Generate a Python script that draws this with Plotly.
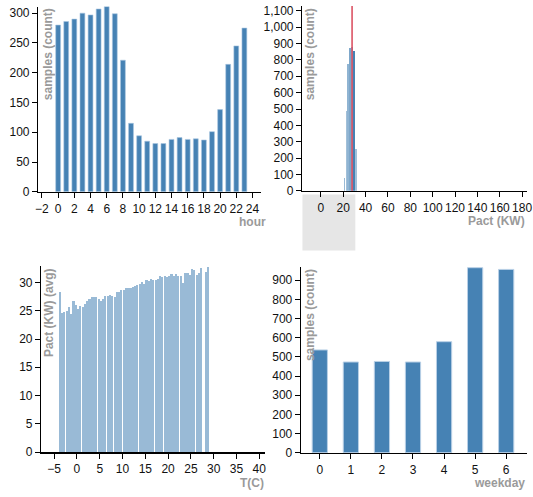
import plotly.graph_objects as go

W, H = 533, 497

# ---------------- data ----------------
hours = list(range(24))
hour_counts = [280, 286, 290, 300, 297, 307, 311, 299, 221, 115, 94, 85, 81, 81, 88, 91, 88, 89, 87, 101, 138, 214, 245, 275]

pact_bins = [21.1, 22.8, 24.5, 26.2, 27.9, 29.6, 31.3]
pact_counts = [80, 488, 774, 874, 878, 854, 258]
pact_mean = 27.9

temps = [-3.75, -3.25, -2.75, -2.25, -1.75, -1.25, -0.75, -0.25, 0.25, 0.75,
         1.25, 1.75, 2.25, 2.75, 3.25, 3.75, 4.25, 4.75, 5.25, 5.75,
         6.25, 6.75, 7.25, 7.75, 8.25, 8.75, 9.25, 9.75, 10.25, 10.75,
         11.25, 11.75, 12.25, 12.75, 13.25, 13.75, 14.25, 14.75, 15.25, 15.75,
         16.25, 16.75, 17.25, 17.75, 18.25, 18.75, 19.25, 19.75, 20.25, 20.75,
         21.25, 21.75, 22.25, 22.75, 23.25, 23.75, 24.25, 24.75, 25.25, 25.75,
         26.25, 26.75, 27.25, 28.25, 28.75]
pact_avg = [28.3, 24.6, 24.8, 25.0, 25.6, 24.4, 26.7, 26.1, 25.4, 25.9,
            25.7, 26.2, 26.8, 27.1, 27.4, 27.5, 27.4, 27.0, 26.8, 27.0,
            27.7, 27.6, 27.8, 27.7, 27.5, 28.3, 28.4, 28.6, 28.7, 29.1,
            29.1, 29.0, 29.2, 29.3, 29.5, 29.8, 30.1, 29.8, 30.4, 30.3,
            30.7, 30.5, 30.4, 30.6, 31.2, 31.0, 31.1, 31.0, 31.2, 31.5,
            31.2, 31.5, 31.1, 31.2, 29.9, 31.6, 31.7, 31.3, 32.4, 32.2,
            31.4, 31.7, 32.6, 31.9, 32.8]

weekdays = [0, 1, 2, 3, 4, 5, 6]
weekday_counts = [536, 473, 476, 473, 579, 965, 956]

# ---------------- helpers ----------------
def px(x):
    return x / W

def py(y):
    return 1 - y / H

STEEL = "#4682b4"
FONT = "Liberation Sans, Arial, sans-serif"
TITLE_COLOR = "#9a9a9a"

axis_common = dict(
    showline=True, linecolor="black", linewidth=1.5,
    ticks="outside", ticklen=5, tickwidth=1, tickcolor="black",
    showgrid=False, zeroline=False,
    tickfont=dict(family=FONT, size=12, color="#111"),
    ticklabeloverflow="allow",
    fixedrange=True,
)

fig = go.Figure()

fig.add_trace(go.Bar(x=hours, y=hour_counts, width=0.6, xaxis="x", yaxis="y",
                     marker=dict(color=STEEL, line=dict(color="#a9c6e0", width=0.6))))

bar_cols = ["rgba(70,130,180,0.55)", "rgba(70,130,180,0.5)", "rgba(70,130,180,0.6)",
            "rgba(70,130,180,0.7)", "rgba(70,130,180,0.6)", "rgba(70,130,180,1)",
            "rgba(70,130,180,0.5)"]
fig.add_trace(go.Bar(x=pact_bins, y=pact_counts, width=1.4, xaxis="x2", yaxis="y2",
                     marker=dict(color=bar_cols, line=dict(width=0))))

fig.add_trace(go.Bar(x=temps, y=pact_avg, width=0.46, xaxis="x3", yaxis="y3",
                     marker=dict(color="rgba(70,130,180,0.55)", line=dict(width=0))))

fig.add_trace(go.Bar(x=weekdays, y=weekday_counts, width=0.49, xaxis="x4", yaxis="y4",
                     marker=dict(color=STEEL, line=dict(color="#b9d0e6", width=1))))

fig.update_layout(
    width=W, height=H,
    margin=dict(l=0, r=0, t=0, b=0),
    paper_bgcolor="white", plot_bgcolor="white",
    showlegend=False, bargap=0,
    font=dict(family=FONT),
    xaxis=dict(domain=[px(36), px(262)], range=[-2.43, 25.06], tick0=0, dtick=2,
               anchor="y", **axis_common),
    yaxis=dict(domain=[py(193.3), py(4.7)], range=[0, 311], dtick=50,
               anchor="x", **axis_common),
    xaxis2=dict(domain=[px(304), px(532)], range=[-16.5, 184.4], tick0=0, dtick=20,
                anchor="y2", **axis_common),
    yaxis2=dict(domain=[py(192.3), py(4)], range=[0, 1130], dtick=100, tickformat=",",
                anchor="x2", **axis_common),
    xaxis3=dict(domain=[px(39), px(265.7)], range=[-7.8, 41.2], tick0=0, dtick=5,
                anchor="y3", **axis_common),
    yaxis3=dict(domain=[py(458.3), py(269.3)], range=[0, 32.85], dtick=5,
                anchor="x3", **axis_common),
    xaxis4=dict(domain=[px(302.7), px(532)], range=[-0.6, 6.67], tickvals=weekdays,
                anchor="y4", **axis_common),
    yaxis4=dict(domain=[py(459), py(270)], range=[0, 968], dtick=100,
                anchor="x4", **axis_common),
)

# gray overview region under the Pact axis
fig.add_shape(type="rect", xref="paper", yref="paper",
              x0=px(304), x1=px(357.7), y0=py(253), y1=py(196),
              fillcolor="#e6e6e6", line=dict(width=0), layer="below")

# mean line
fig.add_shape(type="line", xref="x2", yref="y2 domain",
              x0=pact_mean, x1=pact_mean, y0=0, y1=1,
              line=dict(color="#d9485a", width=1.5))

tfont = dict(family=FONT, size=12, color=TITLE_COLOR, weight="bold")

def ytitle(text, xc, ytop):
    fig.add_annotation(text=text, xref="paper", yref="paper", x=px(xc), y=py(ytop),
                       xanchor="center", yanchor="top", textangle=-90,
                       showarrow=False, font=tfont, borderpad=0)

def xtitle(text, xr, ytop):
    fig.add_annotation(text=text, xref="paper", yref="paper", x=px(xr), y=py(ytop),
                       xanchor="right", yanchor="top",
                       showarrow=False, font=tfont, borderpad=0)

ytitle("samples (count)", 46, 5)
ytitle("samples (count)", 312, 5)
ytitle("Pact (KW) (avg)", 46.7, 269.5)
ytitle("samples (count)", 311.7, 271)

xtitle("hour", 268, 216)
xtitle("Pact (KW)", 531, 215)
xtitle("T(C)", 265.5, 482)
xtitle("weekday", 530.5, 482)

fig.write_html("out.html",
               config={"displayModeBar": False, "staticPlot": True},
               post_script="document.body.style.margin='0';document.body.style.overflow='hidden';")
